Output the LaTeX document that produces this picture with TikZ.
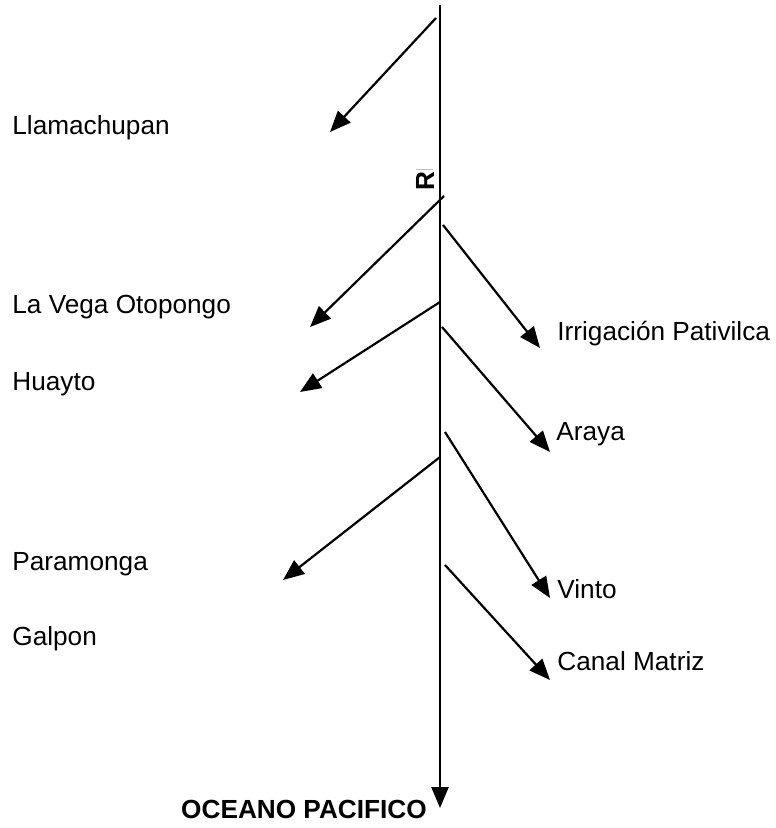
\documentclass[tikz,border=0pt]{standalone}
\usepackage{fontspec}
\setmainfont{Liberation Sans}
\usetikzlibrary{arrows.meta}
\begin{document}
\begin{tikzpicture}[x=0.5pt,y=-0.5pt,
  lbl/.style={anchor=base west,inner sep=0pt,font=\fontsize{13.1}{15}\selectfont},
  river/.style={line width=1.25pt,-{Triangle[length=10.5pt,width=8.5pt]}},
  branch/.style={line width=1.1pt,-{Triangle[length=10.5pt,width=8.5pt]}}]
\path[use as bounding box,fill=white] (0,0) rectangle (775,828);
% main river
\coordinate (top) at (440,5);
\coordinate (sea) at (440,808);
\draw[river] (top) -- (sea);
\node[anchor=base,inner sep=0pt,font=\fontsize{13.1}{15}\selectfont\bfseries] (oc) at (304,818) {OCEANO PACIFICO};
\node[rotate=90,inner sep=0pt,font=\fontsize{13.1}{15}\selectfont\bfseries] (r) at (425,181) {R};
\coordinate (g1) at (416,169);
\coordinate (g2) at (433,169);
\draw[black!25,line width=0.3pt] (g1) -- (g2);
% left branches
\coordinate (l1s) at (436,18);  \coordinate (l1e) at (330,132);
\coordinate (l2s) at (444,196); \coordinate (l2e) at (310,327);
\coordinate (l3s) at (440,302); \coordinate (l3e) at (300,392);
\coordinate (l4s) at (440,457); \coordinate (l4e) at (283,580);
\draw[branch] (l1s) -- (l1e);
\draw[branch] (l2s) -- (l2e);
\draw[branch] (l3s) -- (l3e);
\draw[branch] (l4s) -- (l4e);
% right branches
\coordinate (r1s) at (443,225); \coordinate (r1e) at (540,348);
\coordinate (r2s) at (442,327); \coordinate (r2e) at (550,452);
\coordinate (r3s) at (445,432); \coordinate (r3e) at (550,598);
\coordinate (r4s) at (445,565); \coordinate (r4e) at (550,680);
\draw[branch] (r1s) -- (r1e);
\draw[branch] (r2s) -- (r2e);
\draw[branch] (r3s) -- (r3e);
\draw[branch] (r4s) -- (r4e);
% labels
\node[lbl] (llama) at (12,135) {Llamachupan};
\node[lbl] (vega) at (12,314) {La Vega Otopongo};
\node[lbl] (huayto) at (12,390) {Huayto};
\node[lbl] (param) at (12,570) {Paramonga};
\node[lbl] (galpon) at (12,645) {Galpon};
\node[lbl] (irrig) at (557,340) {Irrigación Pativilca};
\node[lbl] (araya) at (556,440) {Araya};
\node[lbl] (vinto) at (557,598) {Vinto};
\node[lbl] (canal) at (557,670) {Canal Matriz};
\end{tikzpicture}
\end{document}
